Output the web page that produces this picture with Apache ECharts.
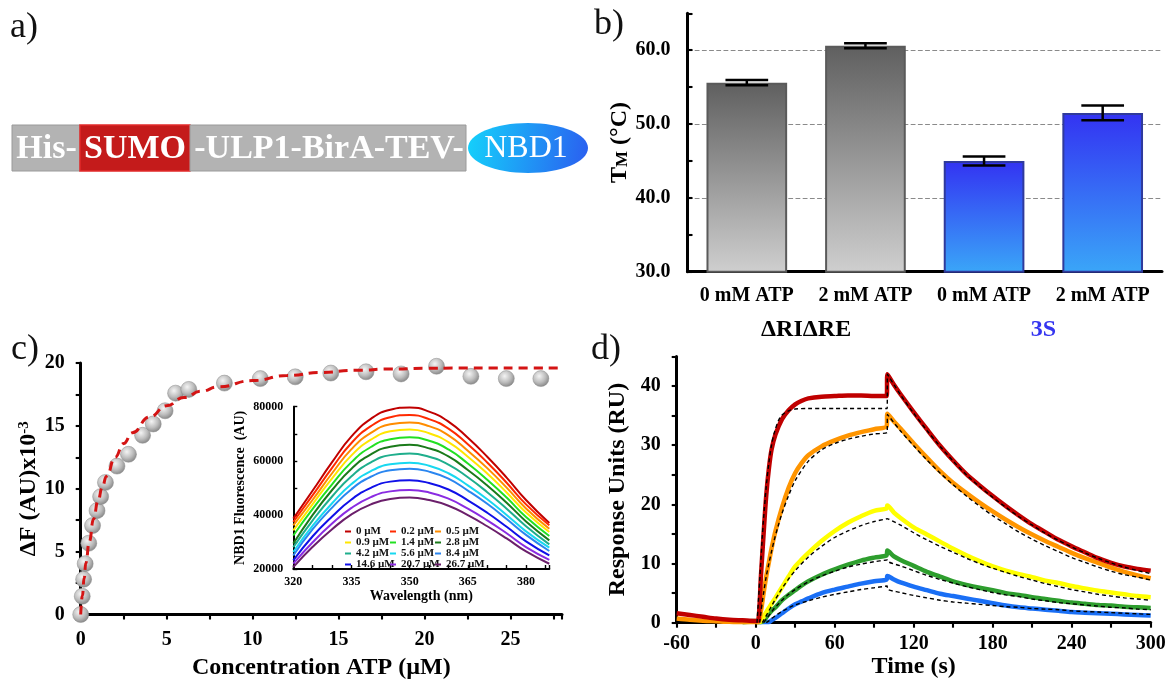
<!DOCTYPE html>
<html>
<head>
<meta charset="utf-8">
<script src="https://cdn.jsdelivr.net/npm/echarts@6/dist/echarts.min.js"></script>
<style>
html, body { margin: 0; padding: 0; background: #fff; }
#main { width: 1167px; height: 681px; }
</style>
</head>
<body>
<div id="main"></div>
<script>
const SERIF = '"Liberation Serif", "Times New Roman", serif';

// b) melting temperature
const tmCategories = ['0 mM ATP', '2 mM ATP', '0 mM ATP', '2 mM ATP'];
const tmGroups = ['ΔRIΔRE', '3S'];
const tmValues = [55.6, 60.6, 45.0, 51.5];
const tmErrors = [0.35, 0.35, 0.6, 1.0];

// c) ATP titration
const atpConc = [0, 0.09, 0.17, 0.26, 0.47, 0.69, 0.95, 1.16, 1.44, 2.11, 2.78, 3.6, 4.22, 4.91, 5.52, 6.29, 8.36, 10.45, 12.48, 14.55, 16.6, 18.64, 20.7, 22.7, 24.76, 26.77];
const deltaF = [0, 1.45, 2.8, 4.04, 5.67, 7.07, 8.26, 9.37, 10.5, 11.8, 12.74, 14.25, 15.15, 16.2, 17.6, 17.9, 18.4, 18.76, 18.9, 19.2, 19.3, 19.13, 19.74, 18.94, 18.76, 18.76];
const fitConc = [0, 0.1, 0.2, 0.3, 0.5, 0.75, 1, 1.25, 1.5, 2, 2.5, 3, 4, 5, 6, 7, 8, 10, 12, 14, 16, 18, 20, 22, 24, 26, 27.8];
const fitDeltaF = [0, 1.5, 2.9, 4.1, 5.8, 7.6, 9.0, 10.1, 11.0, 12.5, 13.6, 14.45, 15.7, 16.6, 17.25, 17.75, 18.1, 18.6, 19.0, 19.25, 19.42, 19.52, 19.58, 19.6, 19.6, 19.6, 19.6];

// c) inset: NBD1 emission spectra
const wavelength = [320, 325, 330, 335, 340, 345, 350, 355, 360, 365, 370, 375, 380, 386];
const specLabels = ['0 µM', '0.2 µM', '0.5 µM', '0.9 µM', '1.4 µM', '2.8 µM', '4.2 µM', '5.6 µM', '8.4 µM', '14.6 µM', '20.7 µM', '26.7 µM'];
const spec0 = [38600, 49000, 59500, 69000, 75500, 78900, 79700, 78200, 74500, 68500, 61500, 53800, 45500, 37000];
const spec02 = [37400, 47300, 57400, 66600, 72800, 76100, 76900, 75400, 71900, 66100, 59400, 51900, 43900, 36150];
const spec05 = [36150, 45600, 55400, 64300, 70300, 73500, 74200, 72800, 69400, 63700, 57300, 50100, 42400, 34900];
const spec09 = [34300, 44000, 53500, 62000, 67800, 70900, 71600, 70200, 66900, 61500, 55300, 48300, 40900, 33700];
const spec14 = [32400, 42200, 51300, 59500, 65100, 68000, 68700, 67400, 64200, 59000, 53000, 46400, 39200, 32200];
const spec28 = [29400, 40000, 49200, 57100, 62400, 65200, 65900, 64600, 61600, 56600, 50900, 44500, 37600, 30600];
const spec42 = [28100, 38000, 46800, 54300, 59400, 62100, 62700, 61500, 58600, 53900, 48400, 42300, 35800, 29100];
const spec56 = [26300, 36000, 44300, 51400, 56200, 58700, 59300, 58200, 55400, 50900, 45800, 40000, 33900, 27900];
const spec84 = [25000, 34700, 42700, 49500, 54100, 56500, 57100, 56000, 53400, 49000, 44100, 38500, 32600, 26650];
const spec146 = [23200, 32100, 39400, 45700, 50000, 52300, 52800, 51800, 49400, 45400, 40800, 35600, 30200, 25000];
const spec207 = [22000, 29900, 36800, 42600, 46600, 48700, 49200, 48300, 46000, 42300, 38000, 33200, 28100, 23400];
const spec267 = [20700, 28200, 34700, 40200, 43900, 45900, 46400, 45500, 43400, 39900, 35800, 31300, 26500, 21950];
const spectra = [spec0, spec02, spec05, spec09, spec14, spec28, spec42, spec56, spec84, spec146, spec207, spec267];
const specColors = ['#c00000', '#ff2a00', '#ff8c00', '#ffe600', '#22e022', '#1a7a1a', '#1fae8c', '#18d8f0', '#2a86f0', '#1010e8', '#8a2be2', '#6b1f6b'];

// d) SPR sensorgrams
const sprT = [-60, -50, -40, -30, -20, -10, 0, 2, 4, 6, 8, 10, 12, 15, 20, 25, 30, 35, 40, 50, 60, 70, 80, 90, 99.5, 100, 105,
  110, 120, 130, 140, 150, 160, 170, 180, 190, 200, 210, 220, 230, 240, 250, 260, 270, 280, 290, 300];
const sprRed = [1.6, 1.3, 1.0, 0.7, 0.5, 0.4, 0.3, 0.4, 8, 15, 21.5, 26, 29.2, 31.8, 34.4, 35.9, 36.9, 37.5, 37.9, 38.2, 38.3, 38.4, 38.4, 38.3, 38.3, 42, 40.2,
  38.6, 35.6, 32.7, 29.9, 27.4, 25.1, 23.2, 21.4, 19.7, 18.1, 16.6, 15.3, 14.0, 12.9, 11.9, 10.9, 10.1, 9.5, 9.1, 8.8];
const sprOrange = [0.7, 0.5, 0.35, 0.25, 0.15, 0.1, 0.1, 0.1, 2, 5, 7.8, 10.2, 12.5, 15.5, 19.5, 22.8, 25.3, 27.0, 28.3, 29.8, 30.8, 31.6, 32.2, 32.7, 33.2, 35.3, 34.0,
  32.8, 30.3, 27.9, 25.6, 23.6, 21.9, 20.3, 18.8, 17.4, 16.1, 14.9, 13.8, 12.8, 11.8, 10.9, 10.1, 9.3, 8.6, 8.0, 7.5];
const sprYellow = [null, null, null, null, null, 0.1, 0.2, 0.1, 0.2, 1.0, 1.8, 2.5, 3.2, 4.2, 6.0, 7.8, 9.5, 10.7, 11.8, 13.8, 15.5, 16.9, 18.0, 18.9, 19.3, 19.8, 18.6,
  17.7, 16.1, 14.9, 13.7, 12.5, 11.4, 10.4, 9.5, 8.8, 8.2, 7.7, 7.1, 6.7, 6.2, 5.8, 5.4, 5.1, 4.8, 4.5, 4.3];
const sprGreen = [null, null, null, null, null, 0.1, 0.3, 0.1, 0.1, 0.3, 0.9, 1.5, 2.0, 2.6, 3.8, 4.7, 5.5, 6.3, 7.0, 8.1, 9.0, 9.8, 10.5, 11.0, 11.4, 12.2, 11.2,
  10.6, 9.6, 8.6, 7.8, 7.0, 6.4, 5.9, 5.5, 5.0, 4.7, 4.3, 4.0, 3.7, 3.4, 3.2, 3.0, 2.9, 2.7, 2.6, 2.5];
const sprBlue = [null, null, null, null, null, 0.1, 0.2, 0.1, 0.1, 0.1, 0.1, 0.1, 0.4, 0.8, 1.6, 2.4, 3.1, 3.6, 4.1, 5.0, 5.6, 6.1, 6.6, 7.0, 7.3, 7.9, 7.3,
  6.8, 6.1, 5.5, 4.9, 4.5, 4.1, 3.7, 3.3, 2.9, 2.6, 2.4, 2.2, 2.0, 1.8, 1.7, 1.6, 1.5, 1.4, 1.3, 1.2];
const fitT = [1, 3, 5, 6, 8, 10, 12, 14, 17, 20, 25, 30, 40, 50, 60, 70, 80, 90, 99.9, 100,
  110, 120, 130, 140, 150, 160, 170, 180, 190, 200, 210, 220, 230, 240, 250, 260, 270, 280, 290, 300];
const fitRed = [0, 7, 14.5, 17.7, 23, 27, 30, 32, 34, 35.1, 35.8, 36.1, 36.2, 36.2, 36.2, 36.2, 36.2, 36.2, 36.2, 42,
  38.5, 35.4, 32.5, 29.8, 27.3, 25.0, 23.0, 21.2, 19.5, 17.9, 16.5, 15.1, 13.9, 12.8, 11.8, 10.9, 10.1, 9.4, 8.8, 8.3];
const fitOrange = [null, 0, 3.5, 5.0, 7.8, 10.0, 12.0, 13.9, 16.3, 18.5, 21.5, 24.0, 27.3, 29.2, 30.3, 31.0, 31.5, 31.9, 32.2, 35.2,
  32.4, 29.9, 27.5, 25.3, 23.3, 21.4, 19.7, 18.1, 16.7, 15.3, 14.1, 13.0, 12.0, 11.0, 10.2, 9.4, 8.7, 8.1, 7.7, 7.2];
const fitYellow = [null, null, 0, 0.4, 1.2, 2.0, 2.8, 3.6, 4.7, 5.8, 7.4, 8.8, 11.1, 12.9, 14.4, 15.5, 16.4, 17.1, 17.6, 17.7,
  16.5, 15.2, 14.0, 12.9, 11.9, 10.9, 10.0, 9.2, 8.5, 7.8, 7.2, 6.6, 6.1, 5.6, 5.2, 4.8, 4.5, 4.2, 4.0, 3.8];
const fitGreen = [null, null, null, 0, 0.6, 1.2, 1.8, 2.4, 3.1, 3.8, 4.8, 5.6, 6.9, 7.9, 8.7, 9.4, 9.9, 10.3, 10.6, 10.4,
  9.6, 8.8, 8.0, 7.3, 6.7, 6.1, 5.6, 5.1, 4.7, 4.4, 4.0, 3.7, 3.4, 3.2, 3.0, 2.8, 2.6, 2.5, 2.3, 2.2];
const fitBlue = [null, null, null, null, 0, 0.3, 0.7, 1.0, 1.5, 1.9, 2.5, 3.0, 3.7, 4.3, 4.8, 5.2, 5.6, 5.9, 6.2, 5.7,
  5.1, 4.6, 4.2, 3.8, 3.5, 3.3, 3.1, 2.9, 2.7, 2.6, 2.4, 2.3, 2.2, 2.0, 1.9, 1.8, 1.7, 1.6, 1.5, 1.4];

const sprData = [sprBlue, sprGreen, sprYellow, sprOrange, sprRed];
const sprFits = [fitBlue, fitGreen, fitYellow, fitOrange, fitRed];
const sprColors = ['#1a6ff5', '#2e9e2e', '#ffff00', '#ff9500', '#c00000'];

const pairs = (xs, ys) => xs.map((x, i) => [x, ys[i]]);

function txt(s, x, y, size, weight, color, align) {
  return {
    type: 'text', x: x, y: y, z: 10,
    style: {
      text: s, font: weight + ' ' + size + 'px ' + SERIF, fill: color,
      align: align, verticalAlign: 'middle', textAlign: align, textVerticalAlign: 'middle'
    }
  };
}

function valueAxis(grid, min, max, interval, fmt, lw, tickInside, size, margin) {
  return {
    type: 'value', gridIndex: grid, min: min, max: max, interval: interval,
    axisLine: { show: true, onZero: false, lineStyle: { color: '#000', width: lw } },
    axisTick: { show: true, inside: tickInside, length: 5, lineStyle: { color: '#000', width: lw * 0.7 } },
    axisLabel: { formatter: fmt, color: '#000', fontFamily: SERIF, fontWeight: 'bold', fontSize: size, margin: margin },
    splitLine: { show: false }
  };
}

const boldName = (size) => ({ fontFamily: SERIF, fontWeight: 'bold', fontSize: size, color: '#000' });

const chart = echarts.init(document.getElementById('main'));

const greyFill = { type: 'linear', x: 0, y: 0, x2: 0, y2: 1, colorStops: [{ offset: 0, color: '#5f5f5f' }, { offset: 1, color: '#cfcfcf' }] };
const blueFill = { type: 'linear', x: 0, y: 0, x2: 0, y2: 1, colorStops: [{ offset: 0, color: '#3333f2' }, { offset: 1, color: '#3aa6f8' }] };

// b) axes
const yB = valueAxis(0, 30, 65, 5, v => (v % 10 === 0 ? v.toFixed(1) : ''), 3, true, 20, 17);
yB.splitLine = {
  show: true,
  lineStyle: { type: 'dashed', width: 1.2, color: ['rgba(0,0,0,0)', 'rgba(0,0,0,0)', '#8a8a8a', 'rgba(0,0,0,0)', '#8a8a8a', 'rgba(0,0,0,0)', '#8a8a8a', 'rgba(0,0,0,0)'] }
};
yB.name = '{a|T}{b|M}{a| (°C)}';
yB.nameLocation = 'middle';
yB.nameGap = 54;
yB.nameTextStyle = { rich: { a: boldName(24), b: Object.assign(boldName(17), { verticalAlign: 'bottom' }) } };

// c) axes
const xC = valueAxis(1, 0, 28, 2.5, v => (v % 5 === 0 ? String(v) : ''), 3, false, 20, 15);
xC.name = 'Concentration ATP (µM)';
xC.nameLocation = 'middle';
xC.nameGap = 41;
xC.nameTextStyle = boldName(24);
const yC = valueAxis(1, 0, 20, 2.5, v => (v % 5 === 0 ? String(v) : ''), 3, false, 20, 16);
yC.name = '{a|ΔF (AU)x10}{b|-3}';
yC.nameLocation = 'middle';
yC.nameGap = 34;
yC.nameTextStyle = { rich: { a: boldName(24), b: Object.assign(boldName(15), { verticalAlign: 'top' }) } };

// inset axes
const xI = valueAxis(2, 320, 386, 5, v => ((v - 320) % 15 === 0 && v <= 380 ? String(v) : ''), 2, true, 12, 7);
xI.axisTick.length = 4;
xI.name = 'Wavelength (nm)';
xI.nameLocation = 'middle';
xI.nameGap = 16;
xI.nameTextStyle = boldName(14);
const yI = valueAxis(2, 20000, 80000, 10000, v => (v % 20000 === 0 ? String(v) : ''), 2, true, 12, 10);
yI.axisTick.length = 4;
yI.name = 'NBD1 Fluorescence  (AU)';
yI.nameLocation = 'middle';
yI.nameGap = 46;
yI.nameTextStyle = boldName(14);

// d) axes
const xD = valueAxis(3, -60, 300, 30, v => (v % 60 === 0 ? String(v) : ''), 3, false, 20, 11);
xD.name = 'Time (s)';
xD.nameLocation = 'middle';
xD.nameGap = 32;
xD.nameTextStyle = boldName(24);
const yD = valueAxis(3, 0, 45, 5, v => (v % 10 === 0 ? String(v) : ''), 3, false, 20, 16);
yD.name = 'Response Units (RU)';
yD.nameLocation = 'middle';
yD.nameGap = 47;
yD.nameTextStyle = boldName(24);

const legendCol = (idx, left) => ({
  orient: 'vertical', left: left, top: 521, itemGap: 0, itemWidth: 6, itemHeight: 2, icon: 'rect',
  selectedMode: false,
  data: idx.map(i => specLabels[i]),
  textStyle: { fontFamily: SERIF, fontWeight: 'bold', fontSize: 11, lineHeight: 10.7, color: '#111' }
});

const series = [];

series.push({
  type: 'bar', xAxisIndex: 0, yAxisIndex: 0, barWidth: '68%', z: 3,
  data: tmValues.map((v, i) => ({
    value: v,
    itemStyle: i < 2
      ? { color: greyFill, borderColor: '#5a5a5a', borderWidth: 2 }
      : { color: blueFill, borderColor: '#2f3a9c', borderWidth: 2 }
  }))
});

series.push({
  type: 'custom', xAxisIndex: 0, yAxisIndex: 0, z: 5,
  data: tmValues.map((v, i) => [i, v - tmErrors[i], v + tmErrors[i]]),
  encode: { x: 0, y: [1, 2] },
  renderItem: function (params, api) {
    const lo = api.coord([api.value(0), api.value(1)]);
    const hi = api.coord([api.value(0), api.value(2)]);
    const half = api.size([1, 0])[0] * 0.18;
    const st = { stroke: '#000', lineWidth: 2.5 };
    return {
      type: 'group', children: [
        { type: 'line', shape: { x1: lo[0], y1: lo[1], x2: hi[0], y2: hi[1] }, style: st },
        { type: 'line', shape: { x1: lo[0] - half, y1: lo[1], x2: lo[0] + half, y2: lo[1] }, style: st },
        { type: 'line', shape: { x1: hi[0] - half, y1: hi[1], x2: hi[0] + half, y2: hi[1] }, style: st }
      ]
    };
  }
});

series.push({
  type: 'scatter', xAxisIndex: 2, yAxisIndex: 1, symbolSize: 16, z: 3,
  data: pairs(atpConc, deltaF),
  itemStyle: {
    color: { type: 'radial', x: 0.4, y: 0.35, r: 0.7, colorStops: [{ offset: 0, color: '#f4f4f4' }, { offset: 0.55, color: '#bdbdbd' }, { offset: 1, color: '#808080' }] },
    borderColor: '#8c8c8c', borderWidth: 0.5, opacity: 1
  }
});

series.push({
  type: 'line', xAxisIndex: 2, yAxisIndex: 1, z: 4, symbol: 'none', smooth: true, smoothMonotone: 'x',
  data: pairs(fitConc, fitDeltaF),
  lineStyle: { color: '#d41414', width: 3, type: [9, 6] }
});

spectra.forEach((s, i) => {
  series.push({
    name: specLabels[i], type: 'line', xAxisIndex: 3, yAxisIndex: 2, symbol: 'none', smooth: true, z: 3,
    data: pairs(wavelength, s),
    itemStyle: { color: specColors[i] },
    lineStyle: { color: specColors[i], width: 2 }
  });
});

sprData.forEach((s, i) => {
  series.push({
    type: 'line', xAxisIndex: 4, yAxisIndex: 3, symbol: 'none', smooth: 0.3, z: 3,
    data: pairs(sprT, s),
    lineStyle: { color: sprColors[i], width: 4.5 }
  });
});

sprFits.forEach((s) => {
  series.push({
    type: 'line', xAxisIndex: 4, yAxisIndex: 3, symbol: 'none', smooth: 0.3, z: 4,
    data: pairs(fitT, s),
    lineStyle: { color: '#000', width: 1.4, type: [4, 3] }
  });
});

chart.setOption({
  animation: false,
  backgroundColor: '#fff',
  grid: [
    { left: 687.5, top: 13.3, width: 474.5, height: 258.4, outerBoundsMode: 'none' },
    { left: 80.7, top: 363, width: 481.3, height: 251.5, outerBoundsMode: 'none' },
    { left: 293.3, top: 406.7, width: 256, height: 162.3, outerBoundsMode: 'none' },
    { left: 676.7, top: 356.4, width: 474, height: 266.3, outerBoundsMode: 'none' }
  ],
  xAxis: [
    {
      type: 'category', gridIndex: 0, data: tmCategories,
      axisLine: { lineStyle: { color: '#000', width: 3 } }, axisTick: { show: false },
      axisLabel: { interval: 0, color: '#000', fontFamily: SERIF, fontWeight: 'bold', fontSize: 20, margin: 14 }
    },
    {
      type: 'category', gridIndex: 0, position: 'bottom', offset: 34, data: tmGroups,
      axisLine: { show: false }, axisTick: { show: false },
      axisLabel: {
        interval: 0, margin: 12,
        formatter: (v, i) => (i === 1 ? '{s|' + v + '}' : '{r|' + v + '}'),
        rich: { r: boldName(24), s: Object.assign(boldName(24), { color: '#3535f0' }) }
      }
    },
    xC, xI, xD
  ],
  yAxis: [yB, yC, yI, yD],
  legend: [legendCol([0, 3, 6, 9], 340), legendCol([1, 4, 7, 10], 385), legendCol([2, 5, 8, 11], 430)],
  graphic: [
    txt('a)', 10, 28, 36, 'normal', '#111', 'left'),
    txt('b)', 594, 25, 36, 'normal', '#111', 'left'),
    txt('c)', 11, 350, 36, 'normal', '#111', 'left'),
    txt('d)', 591, 350, 36, 'normal', '#111', 'left'),
    { type: 'rect', z: 5, shape: { x: 12, y: 125, width: 68, height: 46 }, style: { fill: '#b3b3b3', stroke: '#9a9a9a', lineWidth: 1 } },
    { type: 'rect', z: 5, shape: { x: 80, y: 125, width: 110, height: 46 }, style: { fill: '#c41b1b', stroke: '#e22a2a', lineWidth: 1.5 } },
    { type: 'rect', z: 5, shape: { x: 190, y: 125, width: 276, height: 46 }, style: { fill: '#b3b3b3', stroke: '#9a9a9a', lineWidth: 1 } },
    {
      type: 'ellipse', z: 5, shape: { cx: 528, cy: 148, rx: 60, ry: 25 },
      style: { fill: { type: 'linear', x: 0, y: 0, x2: 1, y2: 0.4, colorStops: [{ offset: 0, color: '#14d2fb' }, { offset: 1, color: '#2a62f0' }] } }
    },
    txt('His-', 46.5, 149, 34, 'bold', '#fff', 'center'),
    txt('SUMO', 135, 149, 34, 'bold', '#fff', 'center'),
    txt('-ULP1-BirA-TEV-', 329, 149, 34, 'bold', '#fff', 'center'),
    txt('NBD1', 526, 149, 32, 'normal', '#fff', 'center')
  ],
  series: series
});
</script>
</body>
</html>
